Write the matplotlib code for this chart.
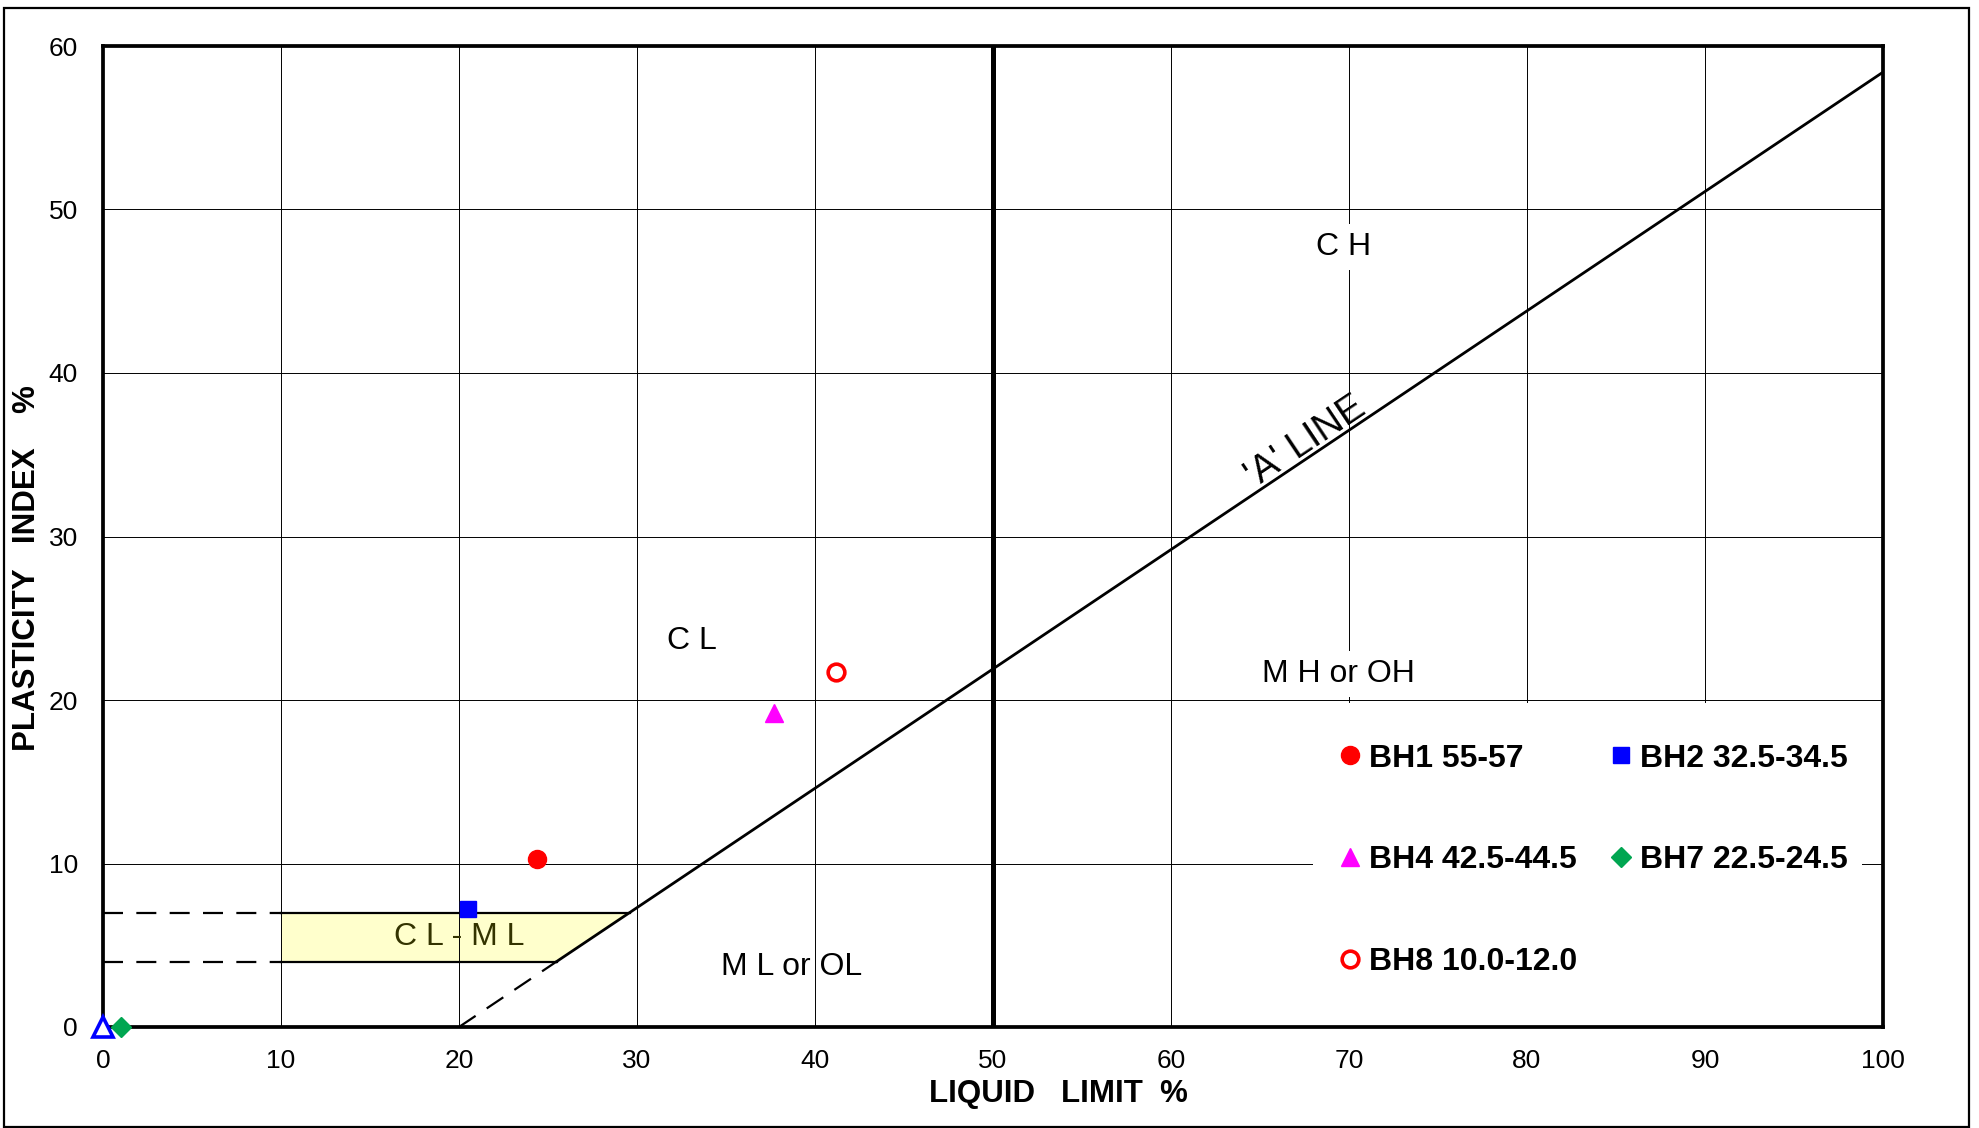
import numpy as np
import matplotlib
matplotlib.use("Agg")
import matplotlib.pyplot as plt
from matplotlib.patches import Rectangle

plt.rcParams['font.family'] = ['Liberation Sans', 'DejaVu Sans']

# sample points (liquid limit, plasticity index)
names = ["BH1 55-57", "BH2 32.5-34.5", "BH4 42.5-44.5", "BH7 22.5-24.5", "BH8 10.0-12.0"]
ll = [24.4, 20.5, 37.7, 1.0, 41.2]
pi = [10.3, 7.2, 19.2, 0.0, 21.7]
# empty series sitting at the origin (no legend entry)
ll_blank = [0.0]
pi_blank = [0.0]

# chart constants
a_slope = 0.73
a_origin = 20.0
clml_low, clml_high = 4.0, 7.0
clml_start = 10.0
ll_split = 50.0

x_ticks = list(range(0, 101, 10))
y_ticks = list(range(0, 61, 10))

W, H = 1979, 1128
fig = plt.figure(figsize=(W / 100, H / 100), dpi=100)
ax = fig.add_axes([103 / W, 1 - 1027 / H, 1780 / W, 981 / H])

# outer frame
fig.patches.append(Rectangle((4 / W, 1.5 / H), 1965 / W, 1119 / H, transform=fig.transFigure,
                             fill=False, lw=1.6, edgecolor='black'))

ax.set_xlim(0, 100)
ax.set_ylim(0, 60)
ax.set_xticks(x_ticks)
ax.set_yticks(y_ticks)
ax.tick_params(length=0, labelsize=19)
ax.tick_params(axis='x', pad=16)
ax.tick_params(axis='y', pad=18)
ax.grid(True, color='black', lw=0.7)
ax.set_axisbelow(True)
for s in ax.spines.values():
    s.set_linewidth(2.7)

def aline(x):
    return a_slope * (np.asarray(x) - a_origin)

# CL-ML zone
x_lo = a_origin + clml_low / a_slope
x_hi = a_origin + clml_high / a_slope
ax.fill([clml_start, x_lo, x_hi, clml_start], [clml_low, clml_low, clml_high, clml_high],
        color='#FFFFCC', lw=0, zorder=0.2)
ax.plot([clml_start, x_lo], [clml_low, clml_low], color='black', lw=1.6, zorder=2)
ax.plot([clml_start, x_hi], [clml_high, clml_high], color='black', lw=1.6, zorder=2)
for yv in (clml_low, clml_high):
    ax.plot([0, clml_start], [yv, yv], color='black', lw=1.6, dashes=(9, 6), zorder=2)

# A line
ax.plot([a_origin, x_lo], [0, clml_low], color='black', lw=1.6, dashes=(9, 6), zorder=2)
ax.plot([x_lo, 100], aline([x_lo, 100]), color='black', lw=2.0, zorder=2)
ax.plot([ll_split, ll_split], [0, 60], color='black', lw=3.6, zorder=2)

ax.text(67.9, 35.25, "'A' LINE", rotation=33.8, rotation_mode='anchor', ha='center', va='baseline',
        fontsize=27.5)

# zone labels
ax.text(69.7, 47.7, "C H", fontsize=23, ha='center', va='center',
        bbox=dict(facecolor='white', edgecolor='none', pad=6))
ax.text(33.1, 23.6, "C L", fontsize=23, ha='center', va='center')
ax.text(69.4, 21.6, "M H or OH", fontsize=23, ha='center', va='center', zorder=4,
        bbox=dict(facecolor='white', edgecolor='none', pad=6))
ax.text(38.7, 3.7, "M L or OL", fontsize=23, ha='center', va='center')
ax.text(20.0, 5.5, "C L - M L", fontsize=23, ha='center', va='center', color='#333300')

# axis titles
ax.text(0.537, -0.0683, "LIQUID   LIMIT  %", transform=ax.transAxes, ha='center', va='center',
        fontsize=22.5, fontweight='bold')
ax.text(-0.0427, 0.468, "PLASTICITY   INDEX    %", transform=ax.transAxes, ha='center',
        va='center', fontsize=22.5, fontweight='bold', rotation=90)

# white panel behind the key
ax.add_patch(Rectangle((0.68, 0.0), 0.308, 0.33, transform=ax.transAxes, facecolor='white',
                       edgecolor='none', zorder=1))

# sample markers
styles = [
    dict(marker='o', color='#FF0000', ms=13),
    dict(marker='s', color='#0000FF', ms=12),
    dict(marker='^', color='#FF00FF', ms=13),
    dict(marker='D', color='#00A651', ms=10),
    dict(marker='o', color='#FF0000', ms=12, mfc='white', mew=2.6),
]
handles = []
for i in range(len(names)):
    h, = ax.plot([ll[i]], [pi[i]], ls='none', label=names[i], zorder=5, clip_on=False, **styles[i])
    handles.append(h)
ax.plot(ll_blank, pi_blank, ls='none', marker='^', ms=14, mfc='white', mec='#0000FF', mew=2.6,
        zorder=5, clip_on=False)

order = [0, 2, 4, 1, 3]
leg = ax.legend([handles[i] for i in order], [names[i] for i in order], ncol=2, loc='center',
                bbox_to_anchor=(0.8377, 0.17), prop=dict(size=23, weight='bold'),
                frameon=False, labelspacing=2.24, columnspacing=1.08, handlelength=0.6,
                handletextpad=0.3, borderpad=0.5)
leg.set_zorder(3)

fig.savefig("out.png", dpi=100)
